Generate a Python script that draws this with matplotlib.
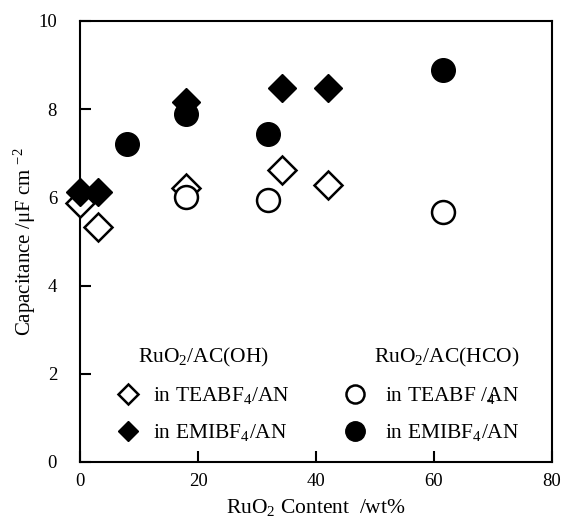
import matplotlib
matplotlib.use("Agg")
import matplotlib.pyplot as plt
from matplotlib.lines import Line2D

plt.rcParams['font.family'] = ['Liberation Serif', 'DejaVu Serif']
plt.rcParams['mathtext.fontset'] = 'custom'
plt.rcParams['mathtext.rm'] = 'Liberation Serif'
plt.rcParams['mathtext.it'] = 'Liberation Serif:italic'
plt.rcParams['mathtext.default'] = 'regular'

# Data
oh_tea_x = [0, 3, 18, 34.3, 42]
oh_tea_y = [5.87, 5.32, 6.22, 6.62, 6.28]
oh_emi_x = [0, 3, 18, 34.3, 42]
oh_emi_y = [6.12, 6.12, 8.17, 8.48, 8.48]
hco_tea_x = [18, 31.9, 61.6]
hco_tea_y = [6.0, 5.93, 5.67]
hco_emi_x = [8, 18, 31.9, 61.6]
hco_emi_y = [7.22, 7.9, 7.44, 8.9]

xticks = [0, 20, 40, 60, 80]
yticks = [0, 2, 4, 6, 8, 10]

fig = plt.figure(figsize=(5.61, 5.17), dpi=100)
ax = fig.add_axes([80/561, 1-462/517, (552-80)/561, (462-21)/517])

ax.plot(oh_tea_x, oh_tea_y, 'D', ms=14.5, mfc='white', mec='black', mew=1.8, ls='none', clip_on=False, zorder=3)
ax.plot(hco_tea_x, hco_tea_y, 'o', ms=16.5, mfc='white', mec='black', mew=1.8, ls='none', clip_on=False, zorder=4)
ax.plot(oh_emi_x, oh_emi_y, 'D', ms=14.5, mfc='black', mec='black', mew=1.0, ls='none', clip_on=False, zorder=5)
ax.plot(hco_emi_x, hco_emi_y, 'o', ms=17, mfc='black', mec='black', mew=1.0, ls='none', clip_on=False, zorder=6)

ax.set_xlim(0, 80)
ax.set_ylim(0, 10)
ax.set_xticks(xticks)
ax.set_yticks(yticks)
ax.tick_params(direction='in', length=8, width=1.5, labelsize=13.5, top=False, right=False)
ax.tick_params(axis='y', pad=16.5)
ax.tick_params(axis='x', pad=8)
for s in ax.spines.values():
    s.set_linewidth(1.5)

ax.set_xlabel('RuO$_2$ Content  /wt%', fontsize=15.5, labelpad=5)
ax.set_ylabel('Capacitance /μF cm $^{-2}$', fontsize=15, labelpad=0.5)

h1 = [Line2D([], [], marker='D', ls='none', ms=10.5, mfc='white', mec='black', mew=1.8),
      Line2D([], [], marker='D', ls='none', ms=10.5, mfc='black', mec='black')]
leg1 = ax.legend(h1, ['in TEABF$_4$/AN', 'in EMIBF$_4$/AN'], title='RuO$_2$/AC(OH)',
                 loc='upper left', bbox_to_anchor=(0.079, 0.263), frameon=False,
                 fontsize=15.5, title_fontsize=15.5, handlelength=1.0, handletextpad=0.66,
                 labelspacing=0.75, borderpad=0, borderaxespad=0)
ax.add_artist(leg1)
h2 = [Line2D([], [], marker='o', ls='none', ms=13, mfc='white', mec='black', mew=1.8),
      Line2D([], [], marker='o', ls='none', ms=14, mfc='black', mec='black')]
leg2 = ax.legend(h2, ['in TEABF /$_4\\!\\!\\!$AN', 'in EMIBF$_4$/AN'], title='RuO$_2$/AC(HCO)',
                 loc='upper left', bbox_to_anchor=(0.56, 0.263), frameon=False,
                 fontsize=15.5, title_fontsize=15.5, handlelength=1.0, handletextpad=0.9,
                 labelspacing=0.75, borderpad=0, borderaxespad=0)
leg2._legend_box.align = 'right'

fig.savefig('out.png', dpi=100)
